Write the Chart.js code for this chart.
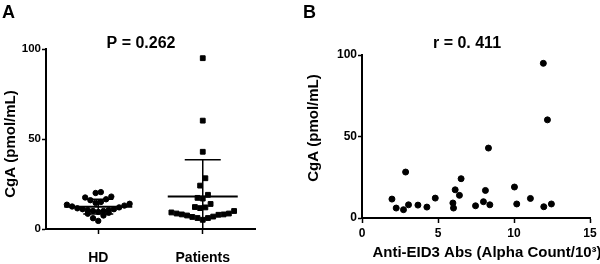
<!DOCTYPE html>
<html>
<head>
<meta charset="utf-8">
<script src="https://cdn.jsdelivr.net/npm/chart.js@4.4.1/dist/chart.umd.min.js"></script>
<style>
  html, body { margin: 0; padding: 0; background: #fff; }
  #wrap { display: flex; width: 600px; height: 264px; }
  .box { position: relative; width: 300px; height: 264px; }
</style>
</head>
<body>
<div id="wrap">
  <div class="box"><canvas id="chartA" width="300" height="264"></canvas></div>
  <div class="box"><canvas id="chartB" width="300" height="264"></canvas></div>
</div>
<script>
// values
var groupLabels = ['HD', 'Patients'];
var hdCgA = [4.5, 6.0, 7.5, 8.5, 9.0, 9.5, 10.0, 10.0, 10.5, 10.5, 11.0, 11.0, 11.5,
             12.0, 12.5, 13.0, 13.5, 14.0, 14.5, 15.0, 16.0, 16.5, 17.5, 18.0, 20.0, 20.5];
// patients: anti-EID3 (x) and CgA (y), same patients in both panels
var patientAbs = [1.97, 2.25, 2.87, 2.73, 3.06, 3.68, 4.27, 4.82, 5.98, 6.02, 6.13, 6.41, 6.52,
                  7.47, 7.99, 8.12, 8.32, 8.41, 10.03, 10.18, 11.08, 11.96, 11.93, 12.20, 12.46];
var patientCgA = [11.6, 6.1, 28.2, 5.1, 8.1, 7.9, 6.7, 12.2, 9.2, 6.1, 17.3, 13.9, 24.1,
                  7.5, 10.0, 16.9, 42.9, 8.1, 19.0, 8.6, 12.0, 6.9, 94.9, 60.2, 8.6];
var cgaTicks = [0, 50, 100];
var absTicks = [0, 5, 10, 15];

Chart.defaults.font.family = '"Liberation Sans", Arial, sans-serif';
Chart.defaults.color = '#000';

// spread points of a column sideways, row by row, lowest value in the middle
function swarm(values, center, rowH, step) {
  var idx = values.map(function (v, i) { return i; }).sort(function (a, b) { return values[a] - values[b]; });
  var xs = new Array(values.length);
  var row = [];
  function flush() {
    var n = row.length;
    row.forEach(function (k, j) {
      var slot = n % 2 ? Math.ceil(j / 2) * (j % 2 ? -1 : 1) : (Math.floor(j / 2) + 0.5) * (j % 2 ? 1 : -1);
      xs[k] = center + slot * step;
    });
    row = [];
  }
  idx.forEach(function (k) {
    if (row.length && values[k] - values[row[0]] >= rowH) flush();
    row.push(k);
  });
  flush();
  return values.map(function (v, i) { return { x: xs[i], y: v }; });
}

function meanSd(a) {
  var m = a.reduce(function (s, v) { return s + v; }, 0) / a.length;
  var ss = a.reduce(function (s, v) { return s + (v - m) * (v - m); }, 0);
  return [m, Math.sqrt(ss / (a.length - 1))];
}

var FONT = '"Liberation Sans", Arial, sans-serif';

var textPlugin = {
  id: 'panelText',
  afterDraw: function (chart, args, o) {
    var ctx = chart.ctx;
    ctx.save();
    ctx.fillStyle = '#000';
    ctx.textBaseline = 'alphabetic';
    ctx.textAlign = 'left';
    ctx.font = 'bold 18px ' + FONT;
    ctx.fillText(o.letter, o.letterX, 18);
    ctx.textAlign = 'center';
    ctx.font = 'bold 16px ' + FONT;
    ctx.fillText(o.stat, o.statX, 48);
    if (o.xTitle) {
      ctx.textBaseline = 'middle';
      ctx.font = 'bold 15px ' + FONT;
      ctx.fillText(o.xTitle, o.xTitleX, o.xTitleY);
    }
    ctx.translate(o.yTitleX, o.yTitleY);
    ctx.rotate(-Math.PI / 2);
    ctx.textBaseline = 'middle';
    ctx.font = 'bold 15px ' + FONT;
    ctx.fillText(o.yTitle, 0, 0);
    ctx.restore();
  }
};

var errorBars = {
  id: 'errorBars',
  afterDatasetsDraw: function (chart) {
    var ctx = chart.ctx, xs = chart.scales.x, ys = chart.scales.y;
    var halfMean = [34, 35], halfCap = [15, 18];
    ctx.save();
    ctx.strokeStyle = '#000';
    chart.data.datasets.forEach(function (ds, i) {
      var st = meanSd(ds.data.map(function (p) { return p.y; }));
      var px = xs.getPixelForValue(i);
      var yM = ys.getPixelForValue(st[0]);
      var yHi = ys.getPixelForValue(st[0] + st[1]);
      var lo = st[0] - st[1];
      var yLo = ys.getPixelForValue(Math.max(lo, 0));
      ctx.lineWidth = 1.5;
      ctx.beginPath();
      ctx.moveTo(px, yHi); ctx.lineTo(px, yLo);
      ctx.moveTo(px - halfCap[i], yHi); ctx.lineTo(px + halfCap[i], yHi);
      if (lo > 0) { ctx.moveTo(px - halfCap[i], yLo); ctx.lineTo(px + halfCap[i], yLo); }
      ctx.stroke();
      ctx.lineWidth = 2;
      ctx.beginPath();
      ctx.moveTo(px - halfMean[i], yM); ctx.lineTo(px + halfMean[i], yM);
      ctx.stroke();
    });
    ctx.restore();
  }
};

var axisBorder = { color: '#000', width: 2 };
var boldTick = function (s) { return { size: s, weight: 'bold' }; };

new Chart(document.getElementById('chartA'), {
  type: 'scatter',
  data: {
    datasets: [{
      label: groupLabels[0],
      data: swarm(hdCgA, 0, 5, 0.05),
      pointStyle: 'circle',
      pointRadius: 2.7,
      backgroundColor: '#000',
      borderColor: '#000',
      borderWidth: 1
    }, {
      label: groupLabels[1],
      data: swarm(patientCgA, 1, 5, 0.05),
      pointStyle: 'rect',
      pointRadius: 3.4,
      backgroundColor: '#000',
      borderColor: '#000',
      borderWidth: 1
    }]
  },
  options: {
    responsive: false,
    animation: false,
    layout: { padding: { top: 49, right: 45, left: 0, bottom: 0 } },
    plugins: {
      legend: { display: false },
      tooltip: { enabled: false },
      panelText: { letter: 'A', letterX: 2, stat: 'P = 0.262', statX: 141,
                   yTitle: 'CgA (pmol/mL)', yTitleX: 11, yTitleY: 144 }
    },
    scales: {
      x: {
        type: 'linear', min: -0.5, max: 1.5,
        afterBuildTicks: function (s) { s.ticks = groupLabels.map(function (l, i) { return { value: i }; }); },
        afterFit: function (s) { s.height = 35; },
        ticks: { callback: function (v) { return groupLabels[v]; }, font: boldTick(14), padding: 16, maxRotation: 0 },
        grid: { drawOnChartArea: false, tickLength: 5, tickColor: '#000', tickWidth: 1.5 },
        border: axisBorder
      },
      y: {
        min: 0, max: 100,
        afterBuildTicks: function (s) { s.ticks = cgaTicks.map(function (v) { return { value: v }; }); },
        afterFit: function (s) { s.width = 46; },
        ticks: { font: boldTick(11.5), padding: 1 },
        grid: { drawOnChartArea: false, tickLength: 4, tickColor: '#000', tickWidth: 1.5 },
        border: axisBorder
      }
    }
  },
  plugins: [textPlugin, errorBars]
});

new Chart(document.getElementById('chartB'), {
  type: 'scatter',
  data: {
    datasets: [{
      label: 'Patients',
      data: patientAbs.map(function (x, i) { return { x: x, y: patientCgA[i] }; }),
      pointRadius: 3,
      backgroundColor: '#000',
      borderColor: '#000',
      borderWidth: 1
    }]
  },
  options: {
    responsive: false,
    animation: false,
    layout: { padding: { top: 55, right: 10, left: 0, bottom: 0 } },
    plugins: {
      legend: { display: false },
      tooltip: { enabled: false },
      panelText: { letter: 'B', letterX: 3, stat: 'r = 0. 411', statX: 167,
                   xTitle: 'Anti-EID3 Abs (Alpha Count/10\u00B3)', xTitleX: 187, xTitleY: 253,
                   yTitle: 'CgA (pmol/mL)', yTitleX: 14, yTitleY: 128 }
    },
    scales: {
      x: {
        type: 'linear', min: 0, max: 15,
        afterBuildTicks: function (s) { s.ticks = absTicks.map(function (v) { return { value: v }; }); },
        afterFit: function (s) { s.height = 46; },
        ticks: { font: boldTick(12), padding: 3, maxRotation: 0 },
        grid: { drawOnChartArea: false, tickLength: 5, tickColor: '#000', tickWidth: 1.5 },
        border: axisBorder
      },
      y: {
        min: 0, max: 100,
        afterBuildTicks: function (s) { s.ticks = cgaTicks.map(function (v) { return { value: v }; }); },
        afterFit: function (s) { s.width = 62; },
        ticks: { font: boldTick(12), padding: 1 },
        grid: { drawOnChartArea: false, tickLength: 4, tickColor: '#000', tickWidth: 1.5 },
        border: axisBorder
      }
    }
  },
  plugins: [textPlugin]
});
</script>
</body>
</html>
